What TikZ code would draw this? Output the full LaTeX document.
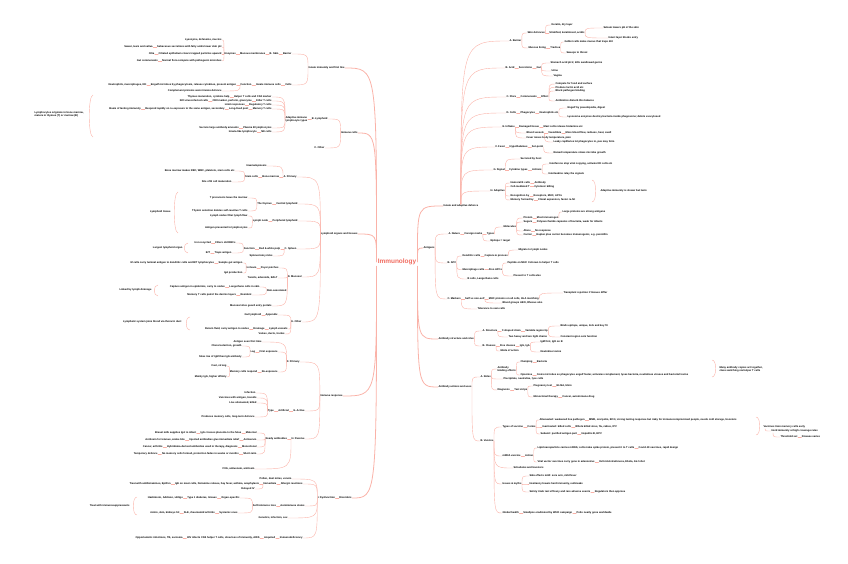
\documentclass[tikz,border=0pt]{standalone}
\usepackage{fontspec}
\setmainfont{Liberation Sans}
\usetikzlibrary{positioning}
\definecolor{linkc}{RGB}{250,178,168}
\definecolor{rootc}{RGB}{240,108,96}
\tikzset{
  leaf/.style={font=\fontsize{2.6}{3.1}\selectfont\bfseries, inner sep=0.3pt},
  lt/.style={leaf, anchor=east},
  rt/.style={leaf, anchor=west},
  link/.style={draw=linkc, line width=0.4pt},
  trunk/.style={draw=linkc, line width=0.8pt},
  fan/.style={to path={.. controls (\tikztostart |- \tikztotarget) .. (\tikztotarget)}},
  node distance=3.5bp
}
\begin{document}
\begin{tikzpicture}[x=1bp,y=-1bp,line cap=round]
\useasboundingbox (0,0) rectangle (848,564);
\node[font=\fontsize{6.5}{7}\selectfont\bfseries, text=rootc, inner sep=1pt] (ctr) at (397,262) {Immunology};
% ---------------- left: innate defence
\node[lt] (m1) at (345,68) {Innate immunity and first line};
\node[lt] (a1) at (292,54) {Barrier};
\node[lt,left=of a1] (a2) {B. Skin};
\node[lt,left=of a2] (a3) {Mucous membranes};
\node[lt,left=of a3] (a4) {Enzymes};
\node[lt] (a5) at (222,40) {Lysozyme, defensins, mucins};
\node[lt] (a6) at (222,47) {Sebaceous secretions with fatty acids lower skin pH};
\node[lt,left=of a6] (a7) {Sweat, tears and saliva};
\node[lt] (a8) at (222,54) {Ciliated epithelium clears trapped particles upward};
\node[lt,left=of a8] (a9) {Cilia};
\node[lt] (a10) at (222,61) {Normal flora compete with pathogenic microbes};
\node[lt,left=of a10] (a11) {Gut commensals};
\node[lt] (b1) at (292,85) {Cells};
\node[lt,left=of b1] (b2) {Innate immune cells};
\node[lt,left=of b2] (b3) {Function};
\node[lt,left=of b3] (b4) {Engulf microbes by phagocytosis, release cytokines, present antigen};
\node[lt,left=of b4] (b5) {Neutrophils, macrophages, NK};
\node[lt] (b6) at (222,91) {Complement proteins assist innate defence};
% ---------------- left: cells
\node[lt] (m2) at (358,133) {Immune cells};
\node[lt] (c1) at (328,119) {B. Lymphoid};
\node[lt,align=left,left=of c1] (c2) {Adaptive immune\\lymphocyte types};
\node[lt] (c3) at (272,97) {Helper T cells and CD4 marker};
\node[lt,left=of c3] (c4) {Thymus maturation, cytokine help};
\node[lt] (c5) at (272,101) {Killer T cells};
\node[lt,left=of c5] (c6) {CD8 marker, perforin, granzyme};
\node[lt,left=of c6] (c7) {Kill virus-infected cells};
\node[lt] (c8) at (272,105) {Regulatory T cells};
\node[lt,left=of c8] (c9) {Limit responses};
\node[lt] (c10) at (272,109) {Memory T cells};
\node[lt,left=of c10] (c11) {Long-lived pool};
\node[lt,left=of c11] (c12) {Respond rapidly on re-exposure to the same antigen, secondary};
\node[lt,left=of c12] (c13) {Basis of lasting immunity};
\node[lt] (c14) at (272,128) {Plasma B lymphocytes};
\node[lt,left=of c14] (c15) {Secrete large antibody amounts};
\node[lt] (c16) at (272,132) {NK cells};
\node[lt,left=of c16] (c17) {Innate-like lymphocyte};
\node[lt,align=left] (c18) at (84,114) {Lymphocytes originate in bone marrow,\\mature in thymus (T) or marrow (B)};
\node[lt] (c19) at (325,148) {C. Other};
% ---------------- left: organs
\node[lt] (m3) at (358,234) {Lymphoid organs and tissues};
\node[lt] (d1) at (297,177) {A. Primary};
\node[lt,left=of d1] (d2) {Bone marrow};
\node[lt,left=of d2] (d3) {Stem cells};
\node[lt] (d4) at (267,166) {Haematopoiesis};
\node[lt] (d5) at (235,171) {Bone marrow makes RBC, WBC, platelets, stem cells etc};
\node[lt] (d6) at (232,182) {Site of B cell maturation};
\node[lt] (d10) at (298,204) {Central lymphoid};
\node[lt,left=of d10] (d9) {The thymus};
\node[lt] (d8) at (248,198) {T precursors leave the marrow};
\node[lt] (d11) at (248,211) {Thymic selection deletes self-reactive T cells};
\node[lt] (d14) at (298,221) {Peripheral lymphoid};
\node[lt,left=of d14] (d13) {Lymph node};
\node[lt] (d12) at (248,216) {Lymph nodes filter lymph flow};
\node[lt] (d15) at (248,228) {Antigen presented to lymphocytes};
\node[lt] (d7) at (171,212) {Lymphoid tissue};
\node[lt] (d16) at (297,249) {C. Spleen};
\node[lt,left=of d16] (d17) {Red \& white pulp};
\node[lt,left=of d17] (d18) {Function};
\node[lt] (d19) at (236,243) {Filters old RBCs};
\node[lt,left=of d19] (d20) {Iron recycled};
\node[lt] (d21) at (232,253) {Traps antigen};
\node[lt,left=of d21] (d22) {B/T};
\node[lt] (d23) at (183,248) {Largest lymphoid organ};
\node[lt] (d24) at (273,256) {Splenectomy risks};
\node[lt] (d25) at (302,277) {D. Mucosal};
\node[lt] (d26) at (279,268) {Peyer patches};
\node[lt,left=of d26] (d27) {In ileum};
\node[lt] (d28) at (243,263) {Sample gut antigen};
\node[lt,left=of d28] (d29) {M cells carry luminal antigen to dendritic cells and B/T lymphocytes};
\node[lt] (d30) at (243,273) {IgA production};
\node[lt] (d31) at (278,278) {Tonsils, adenoids, BALT};
\node[lt] (d40) at (287,291) {Skin-associated};
\node[lt] (d41) at (260,287) {Langerhans cells in skin};
\node[lt,left=of d41] (d42) {Capture antigen in epidermis, carry to nodes};
\node[lt] (d43) at (252,295) {Resident};
\node[lt,left=of d43] (d44) {Memory T cells patrol the dermis layers};
\node[lt] (d45) at (152,290) {Linked by lymph drainage};
\node[lt] (d46) at (272,306) {Mucosal sites guard entry portals};
\node[lt] (d32) at (302,322) {E. Other};
\node[lt] (d33) at (278,315) {Appendix};
\node[lt,left=of d33] (d34) {Gut lymphoid};
\node[lt] (d35) at (288,329) {Lymph vessels};
\node[lt,left=of d35] (d36) {Drainage};
\node[lt,left=of d36] (d37) {Return fluid, carry antigen to nodes};
\node[lt] (d38) at (182,322) {Lymphatic system joins blood via thoracic duct};
\node[lt] (d39) at (285,334) {Valves, ducts, trunks};
% ---------------- left: responses
\node[lt] (m4) at (343,396) {Immune response};
\node[lt] (e2) at (300,362) {F. Primary};
\node[lt] (e3) at (278,352) {First exposure};
\node[lt,left=of e3] (e4) {Lag};
\node[lt] (e5) at (242,357) {Slow rise of IgM then IgG antibody};
\node[lt] (e6) at (262,342) {Antigen seen first time};
\node[lt] (e7) at (242,346) {Clonal selection, growth};
\node[lt] (e8) at (278,372) {Re-exposure};
\node[lt,left=of e8] (e9) {Memory cells respond};
\node[lt] (e10) at (227,366) {Fast, strong};
\node[lt] (e11) at (227,377) {Mainly IgG, higher affinity};
\node[lt] (e12) at (305,411) {G. Active};
\node[lt,left=of e12] (e13) {Artificial};
\node[lt,left=of e13] (e14) {Type};
\node[lt] (e15) at (256,393) {Infection};
\node[lt] (e16) at (257,398) {Vaccines with antigen, toxoids};
\node[lt] (e17) at (257,403) {Live attenuated, killed};
\node[lt] (e18) at (255,417) {Produces memory cells, long-term defence};
\node[lt] (e19) at (305,439) {H. Passive};
\node[lt,left=of e19] (e20) {Ready antibodies};
\node[lt] (e21) at (257,433) {Maternal};
\node[lt,left=of e21] (e22) {IgG crosses placenta to the fetus};
\node[lt,left=of e22] (e23) {Breast milk supplies IgA to infant};
\node[lt] (e24) at (257,440) {Antiserum};
\node[lt,left=of e24] (e25) {Injected antibodies give immediate relief};
\node[lt,left=of e25] (e26) {Antitoxin for tetanus, snake bite};
\node[lt] (e27) at (257,447) {Monoclonal};
\node[lt,left=of e27] (e28) {Hybridoma-derived antibodies used in therapy, diagnosis};
\node[lt,left=of e28] (e29) {Cancer, arthritis};
\node[lt] (e30) at (257,454) {Short-term};
\node[lt,left=of e30] (e31) {No memory cells formed, protection fades in weeks or months};
\node[lt,left=of e31] (e32) {Temporary defence};
\node[lt] (e33) at (255,469) {IVIG, antivenom, antitoxin};
% ---------------- left: disorders
\node[lt] (m5) at (352,498) {Disorders};
\node[lt,left=of m5] (f1) {I. Dysfunction};
\node[lt] (f2) at (303,484) {Allergic reactions};
\node[lt,left=of f2] (f3) {Immediate};
\node[lt,left=of f3] (f4) {IgE on mast cells, histamine release, hay fever, asthma, anaphylaxis};
\node[lt,left=of f4] (f5) {Treat with antihistamines, EpiPen};
\node[lt] (f6) at (292,479) {Pollen, dust mites, venom};
\node[lt] (f7) at (255,489) {Delayed IV};
\node[lt] (f8) at (305,506) {Autoimmune states};
\node[lt,left=of f8] (f9) {Self-tolerance loss};
\node[lt] (f10) at (240,498) {Organ-specific};
\node[lt,left=of f10] (f11) {Type 1 diabetes, Graves};
\node[lt,left=of f11] (f12) {Hashimoto, Addison, vitiligo};
\node[lt] (f13) at (238,513) {Systemic ones};
\node[lt,left=of f13] (f14) {SLE, rheumatoid arthritis};
\node[lt,left=of f14] (f15) {Joints, skin, kidneys hit};
\node[lt] (f16) at (130,506) {Treat with immunosuppressants};
\node[lt] (f17) at (288,518) {Genetics, infection, sex};
\node[lt] (f18) at (303,538) {Immunodeficiency};
\node[lt,left=of f18] (f19) {Acquired};
\node[lt,left=of f19] (f20) {HIV infects CD4 helper T cells, slow loss of immunity, AIDS};
\node[lt,left=of f20] (f21) {Opportunistic infections, TB, sarcoma};
% ---------------- right: defence overview
\node[rt] (n1) at (443,206) {Innate and adaptive defence};
\node[rt] (g1) at (509,41) {A. Barrier};
\node[rt] (g2) at (527,33) {Skin defences};
\node[rt] (g3) at (551,25) {Keratin, dry layer};
\node[rt,right=of g2] (g4) {Stratified, keratinised, acidic};
\node[rt] (g5) at (603,28) {Sebum lowers pH of the skin};
\node[rt] (g6) at (608,38) {Intact layer blocks entry};
\node[rt] (g7) at (528,48) {Mucous lining};
\node[rt,right=of g7] (g8) {Trachea};
\node[rt] (g9) at (564,42) {Goblet cells make mucus that traps dirt};
\node[rt] (g10) at (566,53) {Sweeps to throat};
\node[rt] (g11) at (505,68) {B. Acid};
\node[rt,right=of g11] (g12) {Secretions};
\node[rt,right=of g12] (g13) {Gut};
\node[rt] (g14) at (550,63) {Stomach acid pH 2, kills swallowed germs};
\node[rt] (g15) at (551,71) {Urine};
\node[rt] (g16) at (553,76) {Vagina};
\node[rt] (g17) at (506,97) {C. Flora};
\node[rt,right=of g17] (g18) {Commensals};
\node[rt,right=of g18] (g19) {Effect};
\node[rt] (g20) at (555,84) {Compete for food and surface};
\node[rt] (g21) at (555,87.5) {Produce lactic acid etc};
\node[rt] (g22) at (555,91) {Block pathogen binding};
\node[rt] (g23) at (555,101) {Antibiotics disturb this balance};
\node[rt] (g25) at (506,113) {D. Cells};
\node[rt,right=of g25] (g26) {Phagocytes};
\node[rt,right=of g26] (g27) {Neutrophils etc};
\node[rt] (g28) at (567,108) {Engulf by pseudopodia, digest};
\node[rt] (g29) at (567,117) {Lysosome enzymes destroy bacteria inside phagosome; debris exocytosed};
\node[rt] (g30) at (502,127) {E. Inflame};
\node[rt,right=of g30] (g31) {Damaged tissue};
\node[rt,right=of g31] (g32) {Mast cells release histamine etc};
\node[rt] (g33) at (526,133) {Blood vessels};
\node[rt,right=of g33] (g34) {Vasodilate};
\node[rt,right=of g34] (g35) {More blood flow, redness, heat, swell};
\node[rt] (g36) at (526,138) {Fever raises body temperature, pain};
\node[rt] (g37) at (553,142) {Leaky capillaries let phagocytes in, pus may form};
\node[rt] (g38) at (495,147) {F. Fever};
\node[rt,right=of g38] (g39) {Hypothalamus};
\node[rt,right=of g39] (g40) {Set-point};
\node[rt] (g41) at (553,153) {Raised temperature slows microbe growth};
\node[rt] (g42) at (493,170) {G. Signal};
\node[rt,right=of g42] (g43) {Cytokine types};
\node[rt,right=of g43] (g44) {Actions};
\node[rt] (g45) at (520,159) {Secreted by host};
\node[rt] (g46) at (549,164) {Interferons stop viral copying, activate NK cells etc};
\node[rt] (g47) at (548,174) {Interleukins relay the signals};
\node[rt] (g48) at (490,191) {H. Adaptive};
\node[rt] (g49) at (510,183) {Humoral B cells};
\node[rt,right=of g49] (g50) {Antibody};
\node[rt] (g51) at (510,186.5) {Cell-mediated T};
\node[rt,right=of g51] (g52) {Cytotoxic killing};
\node[rt] (g53) at (510,196) {Recognition by};
\node[rt,right=of g53] (g54) {Receptors, MHC, APCs};
\node[rt] (g55) at (510,200) {Memory formed by};
\node[rt,right=of g55] (g56) {Clonal expansion, faster re-hit};
\node[rt] (g57) at (600,191) {Adaptive immunity is slower but lasts};
% ---------------- right: antigens
\node[rt] (n2) at (423,248) {Antigens};
\node[rt] (h1) at (448,234) {A. Nature};
\node[rt,right=of h1] (h2) {Foreign marks};
\node[rt,right=of h2] (h3) {Types};
\node[rt] (h9) at (503,227) {Molecules};
\node[rt] (h4) at (523,218) {Protein};
\node[rt,right=of h4] (h5) {Most immunogen};
\node[rt] (h6) at (562,212) {Large proteins are strong antigens};
\node[rt] (h7) at (523,222) {Sugars};
\node[rt,right=of h7] (h8) {Polysaccharide capsules of bacteria, weak for infants};
\node[rt] (h10) at (523,231) {Alone};
\node[rt,right=of h10] (h11) {No response};
\node[rt] (h12) at (523,235) {Carrier};
\node[rt,right=of h12] (h13) {Hapten plus carrier becomes immunogenic, e.g. penicillin};
\node[rt] (h14) at (490,241) {Epitope = target};
\node[rt] (h15) at (447,263) {B. APC};
\node[rt] (h16) at (462,256) {Dendritic cells};
\node[rt,right=of h16] (h17) {Capture \& process};
\node[rt] (h18) at (518,250) {Migrate to lymph nodes};
\node[rt] (h20) at (462,269.5) {Macrophage cells};
\node[rt,right=of h20] (h21) {Also APCs};
\node[rt] (h19) at (507,263) {Peptide on MHC II shown to helper T cells};
\node[rt] (h23) at (513,276) {Present to T cells also};
\node[rt] (h24) at (467,279) {B cells, Langerhans cells};
\node[rt] (h25) at (447,299) {C. Markers};
\node[rt,right=of h25] (h26) {Self vs non-self};
\node[rt,right=of h26] (h27) {MHC proteins on all cells, HLA matching};
\node[rt] (h28) at (563,293) {Transplant rejection if tissues differ};
\node[rt] (h29) at (502,303) {Blood groups ABO, Rhesus also};
\node[rt] (h30) at (477,309) {Tolerance to own cells};
% ---------------- right: antibodies
\node[rt] (n3) at (438,339) {Antibody structure and roles};
\node[rt] (i1) at (482,331) {A. Structure};
\node[rt,right=of i1] (i2) {Y-shaped chain};
\node[rt,right=of i2] (i3) {Variable region tip};
\node[rt] (i4) at (560,326) {Binds epitope, unique, lock and key fit};
\node[rt] (i5) at (560,337) {Constant region sets function};
\node[rt] (i6) at (508,337) {Two heavy and two light chains};
\node[rt] (i7) at (482,346) {B. Classes};
\node[rt,right=of i7] (i8) {Five classes};
\node[rt,right=of i8] (i9) {IgG, IgA};
\node[rt] (i10) at (540,342) {IgM first, IgD on B};
\node[rt] (i11) at (500,351) {Mode of action};
\node[rt] (i12) at (540,352) {Neutralise toxins};
% ---------------- right: actions and vaccines
\node[rt] (n4) at (438,387) {Antibody actions and uses};
\node[rt] (j1) at (480,377) {A. Roles};
\node[rt,align=left] (j2) at (497,369) {Antibody\\binding effects};
\node[rt] (j3) at (520,362) {Clumping};
\node[rt,right=of j3] (j4) {Bacteria};
\node[rt] (j5) at (520,375) {Opsonise};
\node[rt,right=of j5] (j6) {Coats microbes so phagocytes engulf faster, activates complement, lyses bacteria, neutralises viruses and bacterial toxins};
\node[rt,align=left] (j7) at (719,369) {Many antibody copies act together,\\class switching via helper T cells};
\node[rt] (j8) at (503,379) {Precipitate, neutralise, lyse cells};
\node[rt] (j9) at (497,390) {Diagnosis};
\node[rt,right=of j9] (j10) {Test strips};
\node[rt] (j11) at (533,386) {Pregnancy test};
\node[rt,right=of j11] (j12) {ELISA, blots};
\node[rt] (j13) at (533,397) {Monoclonal therapy};
\node[rt,right=of j13] (j14) {Cancer, autoimmune drug};
\node[rt] (k1) at (480,441) {B. Vaccine};
\node[rt] (k2) at (502,427) {Types of vaccine};
\node[rt,right=of k2] (k3) {Forms};
\node[rt] (k4) at (539,420) {Attenuated: weakened live pathogen};
\node[rt,right=of k4] (k5) {MMR, oral polio, BCG; strong lasting response but risky for immunocompromised people, needs cold storage, boosters};
\node[rt] (k6) at (542,427) {Inactivated: killed cells};
\node[rt,right=of k6] (k7) {Whole killed virus, flu, rabies, IPV};
\node[rt] (k8) at (540,434) {Subunit: purified antigen part};
\node[rt,right=of k8] (k9) {Hepatitis B, HPV};
\node[rt] (k10) at (763,427) {Vaccines train memory cells early};
\node[rt] (k11) at (771,431) {Herd immunity at high coverage rates};
\node[rt] (k12) at (780,437) {Threshold set};
\node[rt,right=of k12] (k13) {Disease varies};
\node[rt] (k14) at (502,456) {mRNA vaccine};
\node[rt,right=of k14] (k15) {Action};
\node[rt] (k16) at (537,448) {Lipid nanoparticle carries mRNA; cells make spike protein, present it to T cells};
\node[rt,right=of k16] (k17) {Covid-19 vaccines, rapid design};
\node[rt] (k18) at (537,462) {Viral vector vaccines carry gene in adenovirus};
\node[rt,right=of k18] (k19) {Oxford-AstraZeneca, Ebola, J\&J shot};
\node[rt] (k20) at (513,468) {Schedules and boosters};
\node[rt] (k21) at (502,484) {Issues \& myths};
\node[rt] (k22) at (529,476) {Side effects mild: sore arm, mild fever};
\node[rt] (k23) at (529,484) {Hesitancy lowers herd immunity, outbreaks};
\node[rt] (k24) at (529,492) {Safety trials test efficacy and rare adverse events};
\node[rt,right=of k24] (k25) {Regulators then approve};
\node[rt] (k26) at (502,513) {Global health};
\node[rt,right=of k26] (k27) {Smallpox eradicated by WHO campaign};
\node[rt,right=of k27] (k28) {Polio nearly gone worldwide};
\coordinate (k10s) at ([xshift=2bp]k10.south west);
\coordinate (k11s) at ([xshift=2bp]k11.south west);
% ---------------- trunks from the root
\foreach \q in {m1,m2} \draw[trunk] (ctr.north west) to[fan] (\q.east);
\draw[trunk] (ctr.west) to[fan] (m3.east);
\foreach \q in {m4,m5} \draw[trunk] (ctr.south west) to[fan] (\q.east);
\draw[trunk] (ctr.north east) to[fan] (n1.west);
\draw[trunk] (ctr.east) to[fan] (n2.west);
\foreach \q in {n3,n4} \draw[trunk] (ctr.south east) to[fan] (\q.west);
% ---------------- fans
\foreach \p/\q in {m1/a1, m1/b1, a4/a5, a4/a6, a4/a8, a4/a10, b3/b6, m2/c1, m2/c19,
  c2/c3, c2/c5, c2/c8, c2/c10, c2/c14, c2/c16, m3/d1, m3/d10, m3/d14, m3/d16, m3/d25, m3/d32,
  d1/d4, d3/d5, d3/d6, d9/d8, d9/d11, d13/d12, d13/d15, d18/d19, d18/d21, d16/d24,
  d25/d26, d25/d31, d25/d40, d25/d46, d27/d28, d27/d30, d40/d41, d40/d43, d32/d33, d32/d35, d32/d39,
  m4/e2, m4/e12, m4/e19, e2/e3, e2/e6, e2/e8, e4/e5, e4/e7, e9/e10, e9/e11,
  e14/e15, e14/e16, e14/e17, e14/e18, e20/e21, e20/e24, e20/e27, e20/e30, e19/e33,
  f1/f2, f1/f6, f1/f8, f1/f17, f1/f18, f3/f7, f9/f10, f9/f13}
  \draw[link] (\p.west) to[fan] (\q.east);
\foreach \q in {g1,g11,g17,g25,g30,g38,g42,g48} \draw[link] (n1.north) to[fan] (\q.west);
\foreach \p/\q in {g1/g2, g1/g7, g2/g3, g4/g5, g4/g6, g8/g9, g8/g10, g13/g14, g13/g15, g13/g16,
  g19/g20, g19/g21, g19/g22, g19/g23, g27/g28, g27/g29, g30/g33, g30/g36, g33/g37, g40/g41,
  g42/g45, g44/g46, g44/g47, g48/g49, g48/g51, g48/g53, g48/g55,
  n2/h1, n2/h15, n2/h25, h3/h9, h9/h4, h9/h7, h9/h10, h9/h12, h5/h6, h2/h14,
  h15/h16, h15/h20, h15/h24, h17/h18, h21/h19, h21/h23, h25/h30, h26/h29, h27/h28,
  n3/i1, n3/i7, i1/i6, i3/i4, i3/i5, i7/i11, i9/i10, i9/i12,
  n4/j1, n4/k1, j1/j2, j1/j8, j1/j9, j2/j3, j2/j5, j10/j11, j10/j13,
  k1/k2, k1/k14, k1/k20, k1/k21, k1/k26, k3/k4, k3/k6, k3/k8, k15/k16, k15/k18,
  k21/k22, k21/k23, k21/k24}
  \draw[link] (\p.east) to[fan] (\q.west);
\draw[link] (k10s) to[fan] (k11.west);
\draw[link] (k11s) to[fan] (k12.west);
% ---------------- links along a row
\foreach \p/\q in {a1/a2, a2/a3, a3/a4, a6/a7, a8/a9, a10/a11, b1/b2, b2/b3, b3/b4, b4/b5,
  c1/c2, c3/c4, c5/c6, c6/c7, c8/c9, c10/c11, c11/c12, c12/c13, c14/c15, c16/c17,
  d1/d2, d2/d3, d10/d9, d14/d13, d16/d17, d17/d18, d19/d20, d21/d22, d26/d27, d28/d29,
  d41/d42, d43/d44, d33/d34, d35/d36, d36/d37, e3/e4, e8/e9, e12/e13, e13/e14, e19/e20,
  e21/e22, e22/e23, e24/e25, e25/e26, e27/e28, e28/e29, e30/e31, e31/e32,
  m5/f1, f2/f3, f3/f4, f4/f5, f8/f9, f10/f11, f11/f12, f13/f14, f14/f15, f18/f19, f19/f20, f20/f21,
  g2/g4, g7/g8, g11/g12, g12/g13, g17/g18, g18/g19, g25/g26, g26/g27, g30/g31, g31/g32,
  g33/g34, g34/g35, g38/g39, g39/g40, g42/g43, g43/g44, g49/g50, g51/g52, g53/g54, g55/g56,
  h1/h2, h2/h3, h4/h5, h7/h8, h10/h11, h12/h13, h16/h17, h20/h21, h25/h26, h26/h27,
  i1/i2, i2/i3, i7/i8, i8/i9, j3/j4, j5/j6, j9/j10, j11/j12, j13/j14,
  k2/k3, k4/k5, k6/k7, k8/k9, k12/k13, k14/k15, k16/k17, k18/k19, k24/k25, k26/k27, k27/k28}
  \draw[link] (\p) -- (\q);
% ---------------- summary brackets
\foreach \x/\ya/\yb in {93/95/137, 178/192/233, 188/243/253, 158/285/296, 190/317/330, 137/497/515}
  \draw[link] (\x,\ya) .. controls +(-5,0) and +(-5,0) .. (\x,\yb);
\foreach \x/\ya/\yb in {592/180/202, 712/360/377, 756/417/435}
  \draw[link] (\x,\ya) .. controls +(5,0) and +(5,0) .. (\x,\yb);
\end{tikzpicture}
\end{document}
